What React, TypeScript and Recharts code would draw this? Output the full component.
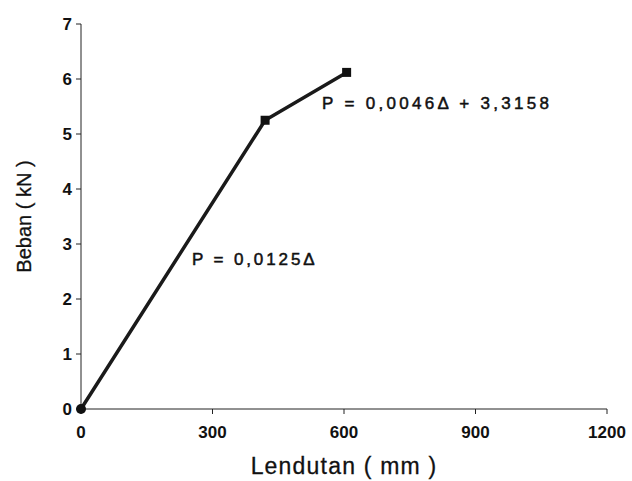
import React from 'react';
import { LineChart, Line, XAxis, YAxis, Label, ReferenceDot } from 'recharts';

// load-deflection points
const deflection = [0, 420, 606];
const load = [0, 5.25, 6.12];

const xTicks = [0, 300, 600, 900, 1200];
const yTicks = [0, 1, 2, 3, 4, 5, 6, 7];

const data = deflection.map((d, i) => ({ d, p: load[i] }));

const FONT = '"Liberation Sans", Arial, sans-serif';

const Marker = (props: any) => {
	const { cx, cy, index } = props;
	if (cx == null || cy == null) return null;
	if (index === 0) return <circle cx={cx} cy={cy} r={5} fill='#111' />;
	return <rect x={cx - 4.5} y={cy - 4.5} width={9} height={9} fill='#111' />;
};

const Note = (text: string, spacing: number) => (props: any) => {
	const { viewBox } = props;
	return (
		<text x={viewBox.x} y={viewBox.y} fontFamily={FONT} fontSize={17} letterSpacing={spacing} fill='#111' stroke='#111' strokeWidth={0.5} dominantBaseline='central'>
			{text}
		</text>
	);
};

export default function App() {
	return (
		<div style={{ position: 'absolute', left: 0, top: 0, background: '#fff' }}>
			<LineChart width={632} height={481} data={data} margin={{ top: 24, right: 25, left: 0, bottom: 0 }}>
				<XAxis
					dataKey='d'
					type='number'
					domain={[0, 1200]}
					ticks={xTicks}
					height={72}
					tickSize={5}
					tickMargin={12}
					stroke='#222'
					tick={{ fill: '#111', fontFamily: FONT, fontSize: 17, fontWeight: 'bold' }}
				>
					<Label value='Lendutan ( mm )' position='insideBottom' offset={7} style={{ fontFamily: FONT, fontSize: 23, letterSpacing: 1.2, fill: '#111', stroke: '#111', strokeWidth: 0.3 }} />
				</XAxis>
				<YAxis
					dataKey='p'
					type='number'
					domain={[0, 7]}
					ticks={yTicks}
					width={81}
					tickSize={5}
					tickMargin={4}
					stroke='#222'
					tick={{ fill: '#111', fontFamily: FONT, fontSize: 17, fontWeight: 'bold' }}
				>
					<Label value='Beban ( kN )' angle={-90} position='insideLeft' offset={24} style={{ fontFamily: FONT, fontSize: 20, fill: '#111', stroke: '#111', strokeWidth: 0.3, textAnchor: 'middle' }} />
				</YAxis>
				<ReferenceDot x={550} y={5.56} r={0} fill='none' stroke='none' label={Note('P = 0,0046Δ + 3,3158', 3.3)} />
				<ReferenceDot x={253} y={2.71} r={0} fill='none' stroke='none' label={Note('P = 0,0125Δ', 2.9)} />
				<Line dataKey='p' stroke='#1a1a1a' strokeWidth={3.5} dot={<Marker />} isAnimationActive={false} />
			</LineChart>
		</div>
	);
}
